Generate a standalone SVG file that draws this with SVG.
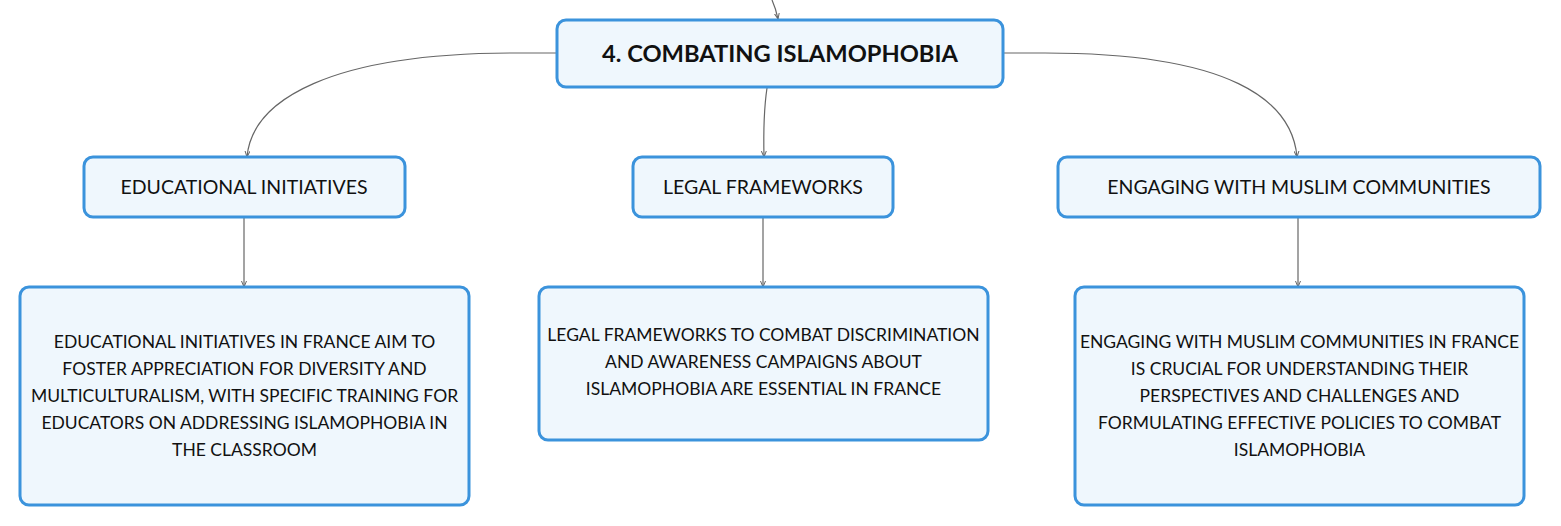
<svg xmlns="http://www.w3.org/2000/svg" width="1561" height="526" viewBox="0 0 1561 526">
<defs>
<marker id="arr" viewBox="0 0 6 6" refX="6" refY="3" markerWidth="6" markerHeight="6" orient="auto" markerUnits="userSpaceOnUse">
<path d="M0,0.5 L6,3 L0,5.5" fill="none" stroke="#666" stroke-width="1"/>
</marker>
<style>
.box{fill:#eff7fd;stroke:#3b93dc;stroke-width:3}
.conn{fill:none;stroke:#666;stroke-width:1.2}
.t{font-family:Lato,"Noto Sans",sans-serif;fill:#111;text-anchor:middle}
.root{font-size:23.7px;font-weight:bold}
.l1{font-size:19.5px}
.l2{font-size:17.5px}
</style>
</defs>
<rect width="1561" height="526" fill="#ffffff"/>
<g id="connectors">
<path class="conn" d="M772,0 Q776,9 778,19" marker-end="url(#arr)"/>
<path class="conn" d="M557,53 L515,53 C330,53 252,100 247,157" marker-end="url(#arr)"/>
<path class="conn" d="M767,88 Q763,115 764,157" marker-end="url(#arr)"/>
<path class="conn" d="M1003,53 L1045,53 C1230,53 1292,100 1297,157" marker-end="url(#arr)"/>
<path class="conn" d="M244,217 L244,287" marker-end="url(#arr)"/>
<path class="conn" d="M763,217 L763,287" marker-end="url(#arr)"/>
<path class="conn" d="M1298,217 L1298,287" marker-end="url(#arr)"/>
</g>
<g id="root">
<rect class="box" x="557" y="20" width="446" height="67" rx="9"/>
<text class="t root" x="780" y="62">4. COMBATING ISLAMOPHOBIA</text>
</g>
<g id="educational">
<rect class="box" x="84" y="157" width="321" height="60" rx="9"/>
<text class="t l1" x="244" y="194">EDUCATIONAL INITIATIVES</text>
</g>
<g id="legal">
<rect class="box" x="633" y="157" width="260" height="60" rx="9"/>
<text class="t l1" x="763" y="194">LEGAL FRAMEWORKS</text>
</g>
<g id="engaging">
<rect class="box" x="1058" y="157" width="482" height="60" rx="9"/>
<text class="t l1" x="1299" y="194">ENGAGING WITH MUSLIM COMMUNITIES</text>
</g>
<g id="educational-detail">
<rect class="box" x="20" y="287" width="449" height="218" rx="9"/>
<text class="t l2" x="244.5" y="348">EDUCATIONAL INITIATIVES IN FRANCE AIM TO</text>
<text class="t l2" x="244.5" y="375">FOSTER APPRECIATION FOR DIVERSITY AND</text>
<text class="t l2" x="244.5" y="402">MULTICULTURALISM, WITH SPECIFIC TRAINING FOR</text>
<text class="t l2" x="244.5" y="429">EDUCATORS ON ADDRESSING ISLAMOPHOBIA IN</text>
<text class="t l2" x="244.5" y="456">THE CLASSROOM</text>
</g>
<g id="legal-detail">
<rect class="box" x="539" y="287" width="449" height="153" rx="9"/>
<text class="t l2" x="763.5" y="341">LEGAL FRAMEWORKS TO COMBAT DISCRIMINATION</text>
<text class="t l2" x="763.5" y="368">AND AWARENESS CAMPAIGNS ABOUT</text>
<text class="t l2" x="763.5" y="395">ISLAMOPHOBIA ARE ESSENTIAL IN FRANCE</text>
</g>
<g id="engaging-detail">
<rect class="box" x="1075" y="287" width="449" height="218" rx="9"/>
<text class="t l2" x="1299.5" y="348">ENGAGING WITH MUSLIM COMMUNITIES IN FRANCE</text>
<text class="t l2" x="1299.5" y="375">IS CRUCIAL FOR UNDERSTANDING THEIR</text>
<text class="t l2" x="1299.5" y="402">PERSPECTIVES AND CHALLENGES AND</text>
<text class="t l2" x="1299.5" y="429">FORMULATING EFFECTIVE POLICIES TO COMBAT</text>
<text class="t l2" x="1299.5" y="456">ISLAMOPHOBIA</text>
</g>
</svg>
